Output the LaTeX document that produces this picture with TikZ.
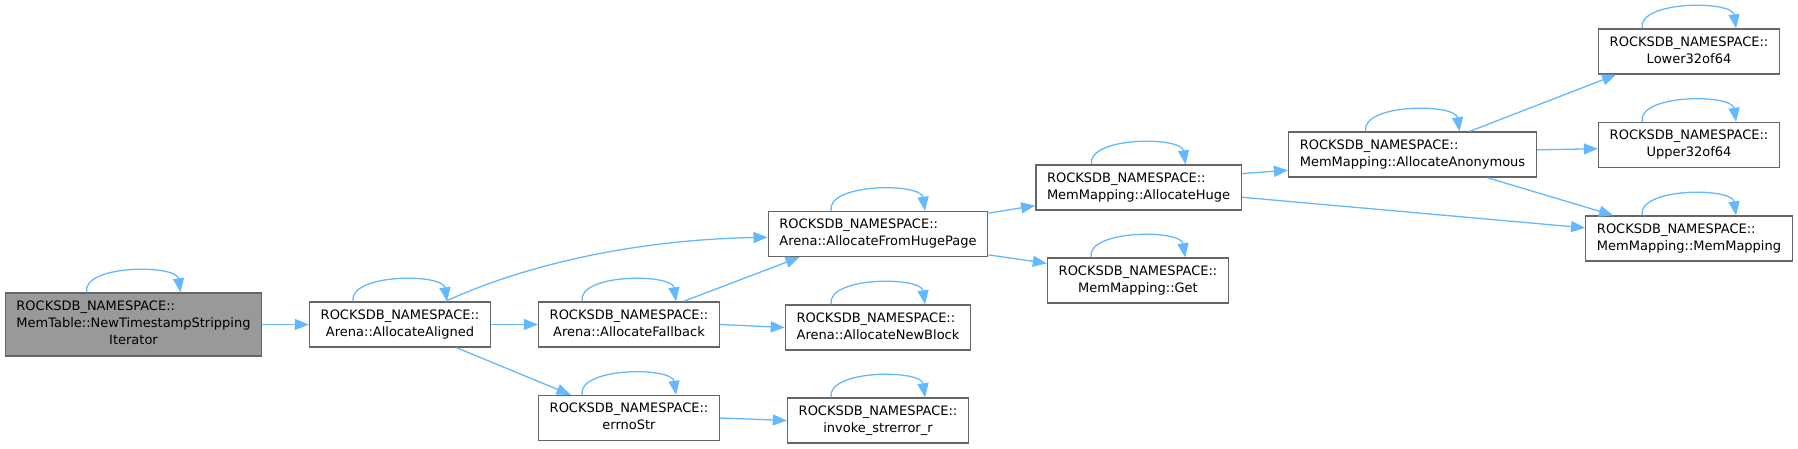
\documentclass[tikz,border=0pt]{standalone}
\usepackage{fontspec}
\setmainfont{DejaVu Sans}
\usepackage{xcolor}
\usepackage{tikz}
\usetikzlibrary{arrows.meta,calc}
\definecolor{edgeblue}{HTML}{63B8FF}
\definecolor{boxgray}{HTML}{666666}
\definecolor{mainfill}{HTML}{999999}
\newcommand{\twoline}[2]{\begin{tabular}{@{}l@{}}#1\\\multicolumn{1}{@{}c@{}}{#2}\end{tabular}}

\begin{document}
\begin{tikzpicture}[x=0.5pt, y=-0.5pt, >={Triangle[length=7pt,width=5.5pt]},
    fn/.style={draw=boxgray, fill=white, line width=0.7pt, inner xsep=5.6pt, inner ysep=0pt,
               minimum height=22.5pt, font=\fontsize{6.5}{8.5}\selectfont},
    edge/.style={->, edgeblue, line width=0.65pt}]
    \useasboundingbox (0,0) rectangle (1798,449);

    \node[fn, fill=mainfill, minimum height=31.5pt] (ts) at (133.5,324.5)
        {\begin{tabular}{@{}l@{}}ROCKSDB\_NAMESPACE::\\MemTable::NewTimestampStripping\\\multicolumn{1}{@{}c@{}}{Iterator}\end{tabular}};
    \node[fn] (aligned)   at (400,324.5)   {\twoline{ROCKSDB\_NAMESPACE::}{Arena::AllocateAligned}};
    \node[fn] (fallback)  at (629,324.5)   {\twoline{ROCKSDB\_NAMESPACE::}{Arena::AllocateFallback}};
    \node[fn] (errno)     at (629,418)     {\twoline{ROCKSDB\_NAMESPACE::}{errnoStr}};
    \node[fn] (fromhuge)  at (878,234)     {\twoline{ROCKSDB\_NAMESPACE::}{Arena::AllocateFromHugePage}};
    \node[fn] (newblock)  at (878,327.5)   {\twoline{ROCKSDB\_NAMESPACE::}{Arena::AllocateNewBlock}};
    \node[fn] (invoke)    at (878,420.5)   {\twoline{ROCKSDB\_NAMESPACE::}{invoke\_strerror\_r}};
    \node[fn] (allochuge) at (1138.5,187.5) {\twoline{ROCKSDB\_NAMESPACE::}{MemMapping::AllocateHuge}};
    \node[fn] (get)       at (1138,280.5)  {\twoline{ROCKSDB\_NAMESPACE::}{MemMapping::Get}};
    \node[fn] (anon)      at (1412.5,154.5) {\twoline{ROCKSDB\_NAMESPACE::}{MemMapping::AllocateAnonymous}};
    \node[fn] (lower)     at (1689,51.5)   {\twoline{ROCKSDB\_NAMESPACE::}{Lower32of64}};
    \node[fn] (upper)     at (1689,145)    {\twoline{ROCKSDB\_NAMESPACE::}{Upper32of64}};
    \node[fn] (memmap)    at (1689,238.5)  {\twoline{ROCKSDB\_NAMESPACE::}{MemMapping::MemMapping}};

    % calls
    \draw[edge] (ts.east) -- (aligned.west);
    \draw[edge] (aligned.east) -- (fallback.west);
    \draw[edge] ($(aligned.north west)!0.75!(aligned.north east)$)
        .. controls +(65,-30) and +(-150,3) .. ($(fromhuge.north west)!0.57!(fromhuge.south west)$);
    \draw[edge] ($(aligned.south west)!0.81!(aligned.south east)$) -- ($(errno.north west)!0.18!(errno.north east)$);
    \draw[edge] ($(fallback.north west)!0.8!(fallback.north east)$) -- ($(fromhuge.south west)!0.145!(fromhuge.south east)$);
    \draw[edge] (fallback.east) -- (newblock.west);
    \draw[edge] (errno.east) -- (invoke.west);
    \draw[edge] ($(fromhuge.north east)!0.05!(fromhuge.south east)$) -- ($(allochuge.north west)!0.89!(allochuge.south west)$);
    \draw[edge] ($(fromhuge.north east)!0.95!(fromhuge.south east)$) -- ($(get.north west)!0.13!(get.south west)$);
    \draw[edge] ($(allochuge.north east)!0.2!(allochuge.south east)$) -- ($(anon.north west)!0.84!(anon.south west)$);
    \draw[edge] ($(allochuge.north east)!0.71!(allochuge.south east)$) -- ($(memmap.north west)!0.27!(memmap.south west)$);
    \draw[edge] ($(anon.north west)!0.73!(anon.north east)$) -- ($(lower.south west)!0.1!(lower.south east)$);
    \draw[edge] ($(anon.north east)!0.4!(anon.south east)$) -- ($(upper.north west)!0.58!(upper.south west)$);
    \draw[edge] ($(anon.south west)!0.8!(anon.south east)$) -- ($(memmap.north west)!0.135!(memmap.north east)$);

    % recursive calls
    \foreach \n in {ts,aligned,fallback,errno,fromhuge,newblock,invoke,allochuge,get,anon,lower,upper,memmap}
        \draw[edge] ($(\n.north)+(-47,0)$) .. controls +(-4,-28) and +(-4,-28) .. ($(\n.north)+(47,0)$);
\end{tikzpicture}
\end{document}
